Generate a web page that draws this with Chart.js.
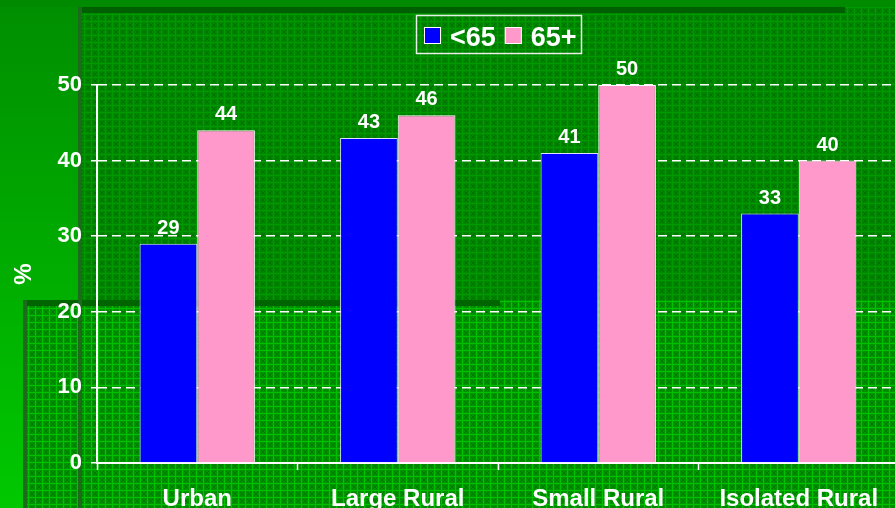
<!DOCTYPE html>
<html>
<head>
<meta charset="utf-8">
<script src="https://cdn.jsdelivr.net/npm/chart.js@4"></script>
<style>
html, body { margin:0; padding:0; overflow:hidden; background:#009000; }
#wrap { width:900px; height:508px; }
</style>
</head>
<body>
<div id="wrap"><canvas id="chart" width="900" height="508"></canvas></div>
<script>
const categories = ['Urban', 'Large Rural', 'Small Rural', 'Isolated Rural']
const under65 = [29, 43, 41, 33]
const over65 = [44, 46, 50, 40]
const seriesLabels = ['<65', '65+']
const yMin = 0
const yMax = 50
const yStep = 10

const FONT = '"Liberation Sans", Arial, sans-serif'
const colors = ['#0000ff', '#ff99cc']

// small repeating tile for the textured panels
function makeTile(base, light, dark){
	const t = document.createElement('canvas')
	t.width = 7; t.height = 7
	const g = t.getContext('2d')
	g.fillStyle = base; g.fillRect(0, 0, 7, 7)
	g.fillStyle = light
	g.fillRect(0, 0, 1, 7)
	g.fillRect(0, 0, 7, 1)
	g.fillStyle = dark
	for(let i = 2; i < 6; i++){
		g.fillRect(i, i, 1, 1)
		g.fillRect(i, 7 - i, 1, 1)
	}
	return t
}

const backdrop = {
	id:'backdrop',
	beforeDraw(chart){
		const ctx = chart.ctx
		const w = chart.width, h = chart.height
		ctx.save()
		const grad = ctx.createLinearGradient(0, 0, 0, h)
		grad.addColorStop(0, '#008e00')
		grad.addColorStop(1, '#00c800')
		ctx.fillStyle = grad
		ctx.fillRect(0, 0, w, h)
		ctx.fillStyle = '#008a00'
		ctx.fillRect(0, 0, w, 7)

		// upper panel
		ctx.fillStyle = ctx.createPattern(makeTile('#008600', '#009a00', '#007200'), 'repeat')
		ctx.fillRect(78, 7, w - 78, h - 7)
		ctx.fillStyle = '#005f00'
		ctx.fillRect(78, 7, 767, 6)

		// lower panel
		ctx.fillStyle = ctx.createPattern(makeTile('#009400', '#00c000', '#007a00'), 'repeat')
		ctx.fillRect(23, 300, w - 23, h - 300)
		ctx.fillStyle = '#006400'
		ctx.fillRect(23, 300, 477, 6)
		ctx.fillStyle = '#1d6a1d'
		ctx.fillRect(23, 300, 4, h - 300)
		ctx.fillRect(78, 7, 4, h - 7)
		ctx.restore()
	}
}

const valueLabels = {
	id:'valueLabels',
	afterDatasetsDraw(chart){
		const ctx = chart.ctx
		ctx.save()
		ctx.fillStyle = '#ffffff'
		ctx.font = 'bold 20px ' + FONT
		ctx.textAlign = 'center'
		ctx.textBaseline = 'alphabetic'
		chart.data.datasets.forEach((ds, i) => {
			chart.getDatasetMeta(i).data.forEach((bar, j) => {
				ctx.fillText(String(ds.data[j]), bar.x, bar.y - 10)
			})
		})
		ctx.restore()
	}
}

// boxed legend like the original slide
const boxLegend = {
	id:'boxLegend',
	afterDraw(chart){
		const ctx = chart.ctx
		ctx.save()
		ctx.strokeStyle = '#e8f0e8'
		ctx.lineWidth = 1.5
		ctx.strokeRect(416.5, 15.5, 165, 38)
		ctx.font = 'bold 27px ' + FONT
		ctx.textBaseline = 'alphabetic'
		let x = 424
		chart.data.datasets.forEach(ds => {
			ctx.fillStyle = ds.backgroundColor
			ctx.fillRect(x, 27, 17, 17)
			ctx.strokeStyle = '#ffffff'
			ctx.lineWidth = 1
			ctx.strokeRect(x + 0.5, 27.5, 16, 16)
			ctx.fillStyle = '#ffffff'
			ctx.fillText(ds.label, x + 26, 46)
			x += 26 + ctx.measureText(ds.label).width + 9
		})
		ctx.restore()
	}
}

new Chart(document.getElementById('chart'), {
	type:'bar',
	data:{
		labels:categories,
		datasets:[
			{ label:seriesLabels[0], data:under65, backgroundColor:colors[0], borderColor:'#e0e0ff', borderWidth:1 },
			{ label:seriesLabels[1], data:over65, backgroundColor:colors[1], borderColor:'#ffffff', borderWidth:1 }
		]
	},
	options:{
		responsive:false,
		animation:false,
		layout:{ padding:{ top:85, right:1, left:0, bottom:0 } },
		datasets:{ bar:{ categoryPercentage:0.575, barPercentage:1 } },
		plugins:{
			legend:{ display:false },
			tooltip:{ enabled:false }
		},
		scales:{
			x:{
				afterFit(s){ s.height = 45 },
				grid:{ drawOnChartArea:false, drawTicks:true, tickLength:7, color:'#ffffff', tickWidth:1.5 },
				border:{ color:'#ffffff', width:2 },
				ticks:{ color:'#ffffff', padding:15, font:{ family:FONT, size:24, weight:'bold' } }
			},
			y:{
				min:yMin,
				max:yMax,
				afterFit(s){ s.width = 97 },
				title:{ display:true, text:'%', color:'#ffffff', padding:{ top:10, bottom:0 }, font:{ family:FONT, size:24, weight:'bold' } },
				grid:{ color:'#ffffff', lineWidth:1.5, tickLength:6 },
				border:{ color:'#ffffff', width:2, dash:[9, 5] },
				ticks:{ stepSize:yStep, color:'#ffffff', padding:9, font:{ family:FONT, size:22, weight:'bold' } }
			}
		}
	},
	plugins:[backdrop, valueLabels, boxLegend]
})
</script>
</body>
</html>
